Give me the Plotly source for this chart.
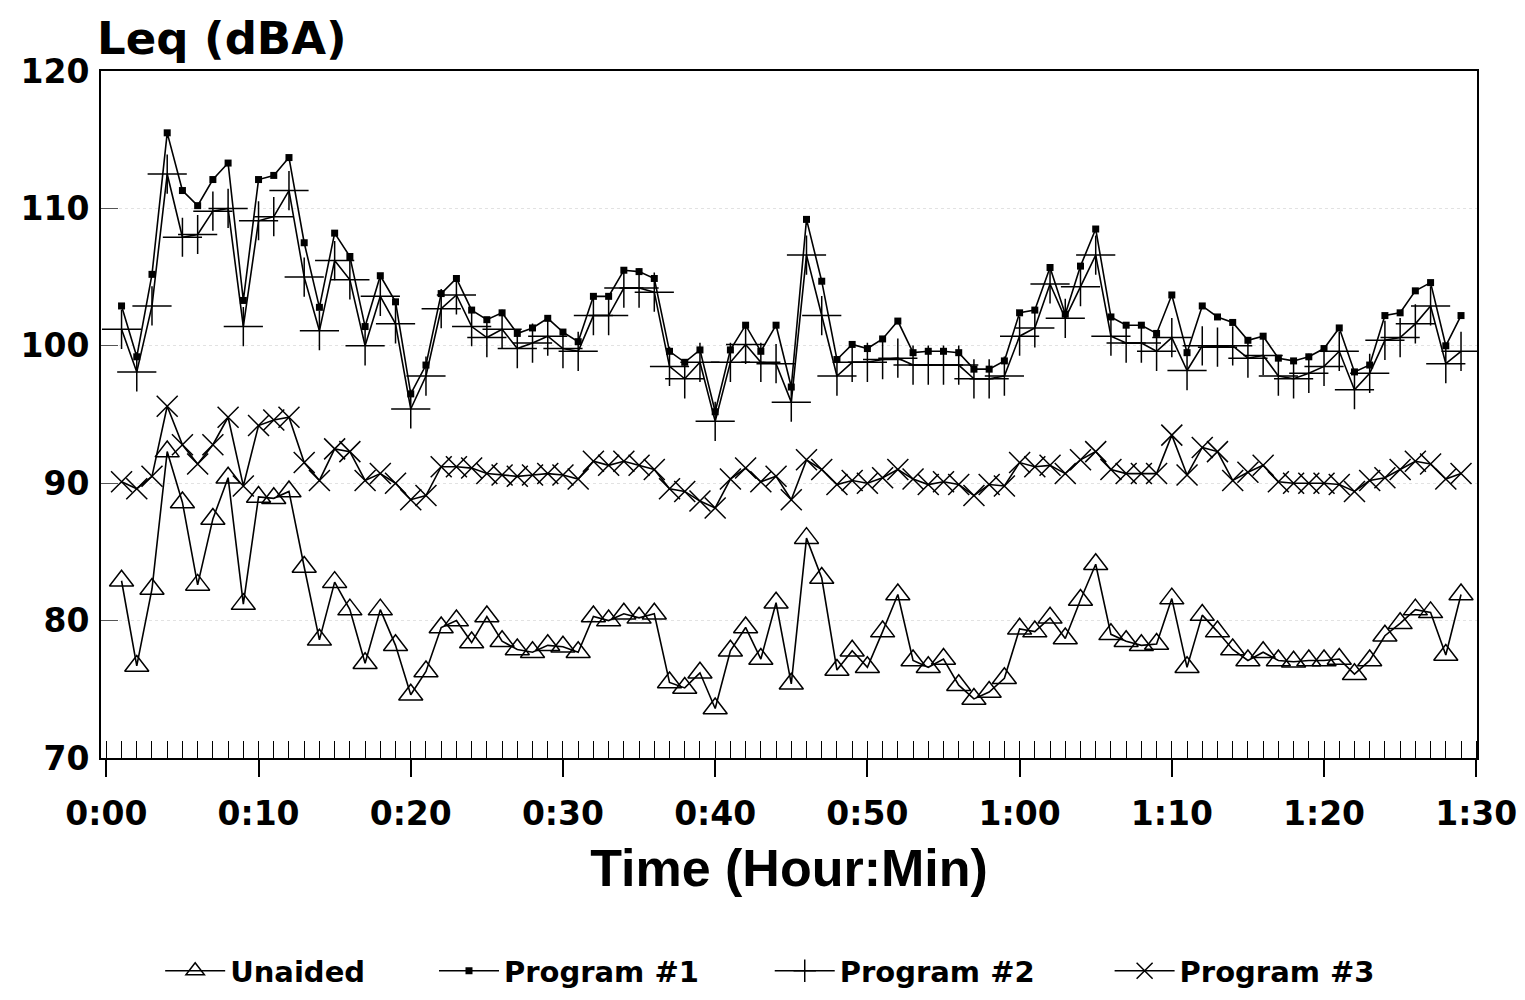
import plotly.graph_objects as go

minutes = list(range(1, 90))

unaided = [82.9, 76.7, 82.3, 92.3, 88.6, 82.6, 87.4, 90.4, 81.2, 89.0,
           88.9, 89.4, 83.9, 78.6, 82.8, 80.8, 76.9, 80.8, 78.2, 74.6,
           76.3, 79.5, 80.0, 78.4, 80.3, 78.5, 77.9, 77.7, 78.2, 78.1,
           77.7, 80.3, 80.0, 80.5, 80.2, 80.5, 75.5, 75.1, 76.2, 73.6,
           77.8, 79.5, 77.2, 81.3, 75.4, 86.0, 83.1, 76.4, 77.8, 76.6,
           79.2, 81.9, 77.1, 76.6, 77.2, 75.3, 74.3, 74.8, 75.8, 79.4,
           79.2, 80.2, 78.7, 81.5, 84.1, 79.0, 78.5, 78.2, 78.3, 81.6,
           76.6, 80.4, 79.2, 77.9, 77.1, 77.7, 77.1, 77.0, 77.1, 77.1,
           77.2, 76.1, 77.1, 78.9, 79.8, 80.8, 80.6, 77.5, 81.9]

program1 = [102.9, 99.2, 105.2, 115.5, 111.3, 110.2, 112.1, 113.3, 103.3, 112.1,
            112.4, 113.7, 107.5, 102.8, 108.2, 106.5, 101.4, 105.1, 103.2, 96.5,
            98.6, 103.8, 104.9, 102.6, 101.9, 102.4, 100.9, 101.3, 102.0, 101.0,
            100.3, 103.6, 103.6, 105.5, 105.4, 104.9, 99.6, 98.8, 99.7, 95.2,
            99.7, 101.5, 99.6, 101.5, 97.0, 109.2, 104.7, 99.0, 100.1, 99.8,
            100.5, 101.8, 99.5, 99.6, 99.6, 99.5, 98.3, 98.3, 98.9, 102.4,
            102.6, 105.7, 102.3, 105.8, 108.5, 102.1, 101.5, 101.5, 100.9, 103.7,
            99.5, 102.9, 102.1, 101.7, 100.4, 100.7, 99.1, 98.9, 99.2, 99.8,
            101.3, 98.1, 98.6, 102.2, 102.4, 104.0, 104.6, 100.0, 102.2]

program2 = [101.2, 98.1, 102.9, 112.5, 107.9, 108.1, 109.8, 110.0, 101.4, 109.1,
            109.4, 111.3, 105.0, 101.1, 106.2, 104.8, 100.0, 103.6, 101.6, 95.4,
            97.8, 102.7, 103.7, 101.4, 100.6, 101.2, 99.8, 100.2, 100.7, 99.8,
            99.6, 102.2, 102.2, 104.2, 104.2, 103.9, 98.5, 97.6, 98.8, 94.5,
            98.8, 100.1, 98.8, 98.7, 95.9, 106.6, 102.2, 97.8, 98.8, 98.8,
            99.0, 99.1, 98.6, 98.6, 98.6, 98.6, 97.6, 97.6, 97.8, 100.7,
            101.3, 104.5, 102.0, 104.3, 106.6, 100.7, 100.2, 100.2, 99.6, 100.6,
            98.2, 100.0, 99.9, 100.0, 99.1, 99.3, 97.8, 97.6, 98.0, 98.5,
            99.6, 96.8, 98.0, 100.4, 100.6, 101.6, 102.9, 98.7, 99.6]

program3 = [90.1, 89.6, 90.5, 95.6, 92.8, 91.4, 92.8, 94.8, 89.8, 94.2,
            94.6, 94.8, 91.5, 90.2, 92.5, 92.3, 90.2, 90.7, 90.0, 88.8,
            89.1, 91.2, 91.2, 91.1, 90.7, 90.6, 90.5, 90.6, 90.7, 90.6,
            90.3, 91.6, 91.3, 91.6, 91.3, 91.0, 89.6, 89.4, 88.7, 88.2,
            90.3, 91.1, 90.1, 90.5, 88.8, 91.7, 91.0, 89.9, 90.2, 90.0,
            90.4, 91.0, 90.3, 89.9, 90.1, 89.9, 89.1, 89.9, 89.8, 91.5,
            91.2, 91.3, 90.7, 91.7, 92.3, 91.0, 90.7, 90.7, 90.7, 93.5,
            90.6, 92.6, 92.3, 90.2, 90.8, 91.3, 90.1, 90.0, 90.0, 90.0,
            89.9, 89.4, 90.2, 90.4, 91.0, 91.6, 91.4, 90.3, 90.7]

x_tick_vals = [0, 10, 20, 30, 40, 50, 60, 70, 80, 90]
x_tick_text = ["0:00", "0:10", "0:20", "0:30", "0:40", "0:50", "1:00", "1:10", "1:20", "1:30"]
y_tick_vals = [70, 80, 90, 100, 110, 120]

WIDE = "DejaVu Sans, Verdana, sans-serif"
NARROW = "Liberation Sans, Arial, sans-serif"

fig = go.Figure()

series = [
    ("Unaided", unaided, dict(symbol="triangle-up-open", size=21, color="black", line=dict(width=1.5, color="black")), "legend", 0.043),
    ("Program #1", program1, dict(symbol="square", size=7, color="black", line=dict(width=0)), "legend2", 0.242),
    ("Program #2", program2, dict(symbol="cross-thin-open", size=28, color="black", line=dict(width=1.5, color="black")), "legend3", 0.486),
    ("Program #3", program3, dict(symbol="x-thin-open", size=21, color="black", line=dict(width=1.5, color="black")), "legend4", 0.733),
]
legends = {}
for name, vals, marker, lg, lx in series:
    fig.add_trace(go.Scatter(
        x=minutes, y=vals, name=name, mode="lines+markers",
        line=dict(color="black", width=1.6), marker=marker, legend=lg,
    ))
    legends[lg] = dict(
        orientation="h", x=lx, xanchor="left", y=-0.31, yanchor="middle",
        font=dict(size=29, family=WIDE, weight="bold", color="black"),
        itemwidth=60, bgcolor="rgba(0,0,0,0)",
    )

fig.update_layout(
    width=1525, height=1000,
    margin=dict(l=93, r=56, t=63, b=230),
    paper_bgcolor="white", plot_bgcolor="white",
    font=dict(family=WIDE, color="black"),
    showlegend=True,
    **legends,
    xaxis=dict(
        range=[-0.35, 90.05], tickmode="array", tickvals=x_tick_vals, ticktext=x_tick_text,
        ticks="outside", ticklen=17, tickwidth=1.5, tickcolor="black",
        showline=True, linewidth=2, linecolor="black", mirror=True,
        showgrid=False, zeroline=False, automargin=False,
        tickfont=dict(size=33, family=WIDE, weight="bold"),
        ticklabelstandoff=8,
        minor=dict(dtick=1, tick0=0, ticks="inside", ticklen=17, tickwidth=1.2, tickcolor="black", showgrid=False),
        title=dict(text="Time (Hour:Min)", font=dict(size=52, family=NARROW, weight="bold"), standoff=18),
    ),
    xaxis2=dict(
        range=[-0.35, 90.05], overlaying="x", anchor="y", side="bottom",
        tickmode="array", tickvals=x_tick_vals, ticks="inside", ticklen=17, tickwidth=1.5,
        tickcolor="black", showticklabels=False, showgrid=False, zeroline=False, showline=False,
    ),
    yaxis=dict(
        range=[70, 120], tickmode="array", tickvals=y_tick_vals,
        ticks="inside", ticklen=17, tickwidth=1, tickcolor="#555555",
        showline=True, linewidth=2, linecolor="black", mirror=True,
        showgrid=True, gridcolor="#e2e2e2", griddash="dot", gridwidth=1,
        zeroline=False, automargin=False,
        tickfont=dict(size=33, family=WIDE, weight="bold"),
        ticklabelstandoff=3,
    ),
    annotations=[dict(
        text="Leq (dBA)", xref="paper", yref="paper", x=-0.004, y=1.048,
        xanchor="left", yanchor="middle", showarrow=False,
        font=dict(size=45, family=WIDE, weight="bold", color="black"),
    )],
)

fig.write_html("out.html")
